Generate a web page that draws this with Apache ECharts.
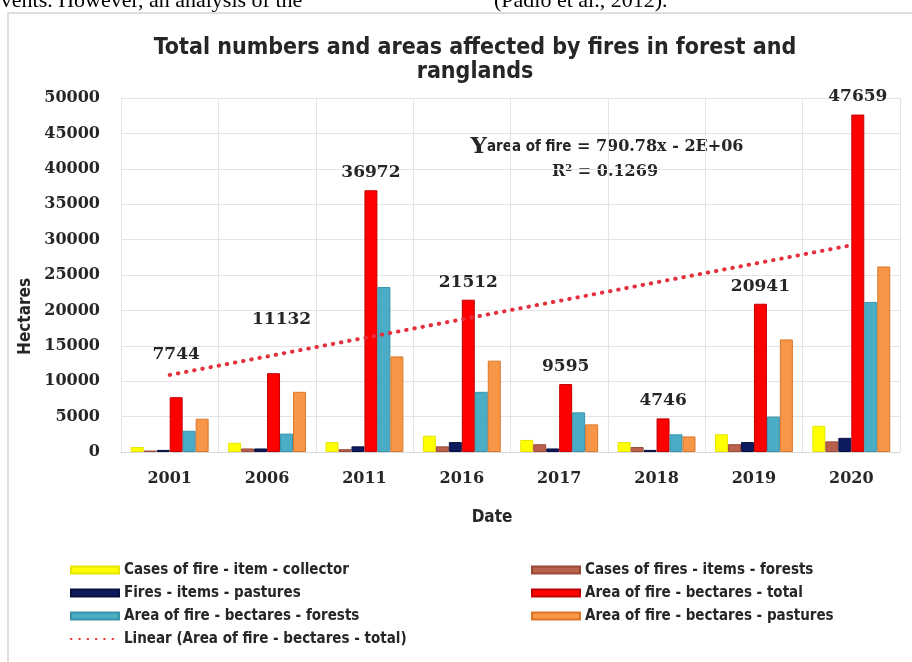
<!DOCTYPE html>
<html>
<head>
<meta charset="utf-8">
<script src="https://cdn.jsdelivr.net/npm/echarts@6/dist/echarts.min.js"></script>
<style>
  html, body { margin: 0; padding: 0; background: #fff; }
  #chart { width: 912px; height: 662px; }
</style>
</head>
<body>
<div id="chart"></div>
<script>
// values
const years = ['2001', '2006', '2011', '2016', '2017', '2018', '2019', '2020'];
const casesCollector = [700, 1300, 1400, 2300, 1700, 1400, 2500, 3700];
const casesForests = [200, 500, 400, 800, 1100, 700, 1100, 1500];
const firesPastures = [300, 500, 800, 1400, 500, 300, 1400, 2000];
const areaTotal = [7744, 11132, 36972, 21512, 9595, 4746, 20941, 47659];
const areaForests = [3000, 2600, 23300, 8500, 5600, 2500, 5000, 21200];
const areaPastures = [4700, 8500, 13500, 12900, 3900, 2200, 15900, 26200];
// excel linear trendline, first and last point
const trendFirst = 10880;
const trendLast = 29200;

const serif = '"DejaVu Serif", "Liberation Serif", serif';
const narrow = '"Liberation Sans Narrow", "DejaVu Sans Condensed", sans-serif';

const chart = echarts.init(document.getElementById('chart'), null, { renderer: 'canvas' });

// the first two labels were dragged up in the original
const labelOffsets = { 0: [0, -25], 1: [8, -36] };
const totalData = areaTotal.map((v, i) => labelOffsets[i]
  ? { value: v, label: { offset: labelOffsets[i] } }
  : v);

const trendData = years.map((y, i) => i === 0 ? trendFirst : (i === years.length - 1 ? trendLast : null));

function bar(name, data, color, border) {
  return {
    name: name,
    type: 'bar',
    data: data,
    barGap: 0,
    barCategoryGap: '20%',
    itemStyle: { color: color, borderColor: border, borderWidth: 1 }
  };
}

const totalSeries = bar('Area of fire - bectares - total', totalData, '#ff0000', '#c00000');
totalSeries.label = {
  show: true,
  position: 'top',
  distance: 9,
  fontFamily: serif,
  fontWeight: 'bold',
  fontSize: 17,
  color: '#262626'
};

const legendText = { fontFamily: narrow, fontWeight: 'bold', fontSize: 15, lineHeight: 18, color: '#262626' };

chart.setOption({
  animation: false,
  backgroundColor: '#fff',
  title: {
    text: 'Total numbers and areas affected by fires in forest and\nranglands',
    left: 470,
    top: 31,
    textAlign: 'center',
    textStyle: {
      fontFamily: narrow,
      fontWeight: 'bold',
      fontSize: 23,
      lineHeight: 24,
      color: '#262626'
    }
  },
  grid: { left: 121, right: 12, top: 98, bottom: 210 },
  legend: [{
    orient: 'vertical',
    left: 70,
    top: 561,
    padding: 0,
    itemWidth: 48,
    itemHeight: 7,
    itemGap: 5,
    textStyle: legendText,
    data: [
      { name: 'Cases of fire - item - collector', icon: 'rect' },
      { name: 'Fires - items - pastures', icon: 'rect' },
      { name: 'Area of fire - bectares - forests', icon: 'rect' },
      { name: 'Linear (Area of fire - bectares - total)', itemStyle: { opacity: 0 } }
    ]
  }, {
    orient: 'vertical',
    left: 531,
    top: 561,
    padding: 0,
    itemWidth: 48,
    itemHeight: 7,
    itemGap: 5,
    textStyle: legendText,
    data: [
      { name: 'Cases of fires - items - forests', icon: 'rect' },
      { name: 'Area of fire - bectares - total', icon: 'rect' },
      { name: 'Area of fire - bectares - pastures', icon: 'rect' }
    ]
  }],
  xAxis: {
    type: 'category',
    data: years,
    axisLine: { lineStyle: { color: '#d9d9d9' } },
    axisTick: { show: false },
    axisLabel: { fontFamily: serif, fontWeight: 'bold', fontSize: 16, color: '#262626', margin: 19 },
    splitLine: { show: true, lineStyle: { color: '#e4e4e4' } }
  },
  yAxis: {
    type: 'value',
    min: 0,
    max: 50000,
    interval: 5000,
    axisLine: { show: false },
    axisTick: { show: false },
    axisLabel: {
      fontFamily: serif, fontWeight: 'bold', fontSize: 16, color: '#262626', margin: 21,
      formatter: (v) => String(v)
    },
    splitLine: { lineStyle: { color: '#e4e4e4' } }
  },
  graphic: [
    {
      type: 'rect',
      shape: { x: 8, y: 13, width: 920, height: 700 },
      style: { fill: 'none', stroke: '#d4d4d4', lineWidth: 1.5 },
      silent: true
    },
    {
      type: 'text', left: -9, top: -10,
      style: { text: 'events. However, an analysis of the', font: '22px "Liberation Serif", serif', fill: '#000' }
    },
    {
      type: 'text', left: 494, top: -10,
      style: { text: '(Padio et al., 2012).', font: '22px "Liberation Serif", serif', fill: '#000' }
    },
    {
      type: 'text', left: 17, top: 278,
      rotation: Math.PI / 2,
      style: {
        text: 'Hectares', font: 'bold 17px ' + narrow, fill: '#262626',
        align: 'center', verticalAlign: 'middle'
      }
    },
    {
      type: 'text', x: 492, y: 518,
      style: {
        text: 'Date', font: 'bold 17px ' + narrow, fill: '#262626',
        align: 'center', verticalAlign: 'middle'
      }
    },
    {
      type: 'text', x: 607, y: 147,
      style: {
        text: '{y|Y}{a|area of fire}{b| = 790.78x - 2E+06}',
        align: 'center', verticalAlign: 'middle',
        rich: {
          y: { font: 'bold 23px ' + serif, fill: '#262626' },
          a: { font: 'bold 15px ' + narrow, fill: '#262626' },
          b: { font: 'bold 16px ' + serif, fill: '#262626' }
        }
      }
    },
    {
      type: 'text', x: 605, y: 172,
      style: {
        text: '{r|R}{s|2}{r| = 0.1269}',
        align: 'center', verticalAlign: 'middle',
        rich: {
          r: { font: 'bold 16px ' + serif, fill: '#262626' },
          s: { font: 'bold 10px ' + serif, fill: '#262626', verticalAlign: 'top', padding: [0, 0, 8, 0] }
        }
      }
    }
  ],
  series: [
    bar('Cases of fire - item - collector', casesCollector, '#ffff00', '#e6e600'),
    bar('Cases of fires - items - forests', casesForests, '#b9614d', '#9c4a3a'),
    bar('Fires - items - pastures', firesPastures, '#0d1b5e', '#081040'),
    totalSeries,
    bar('Area of fire - bectares - forests', areaForests, '#4bacc6', '#3a93ab'),
    bar('Area of fire - bectares - pastures', areaPastures, '#f79646', '#d9772c'),
    {
      name: 'Linear (Area of fire - bectares - total)',
      type: 'line',
      data: trendData,
      connectNulls: true,
      symbol: 'none',
      z: 5,
      lineStyle: { color: '#e3303c', width: 4, type: [0.5, 7.8], cap: 'round' },
      itemStyle: { color: '#e3303c' }
    }
  ]
});
</script>
</body>
</html>
